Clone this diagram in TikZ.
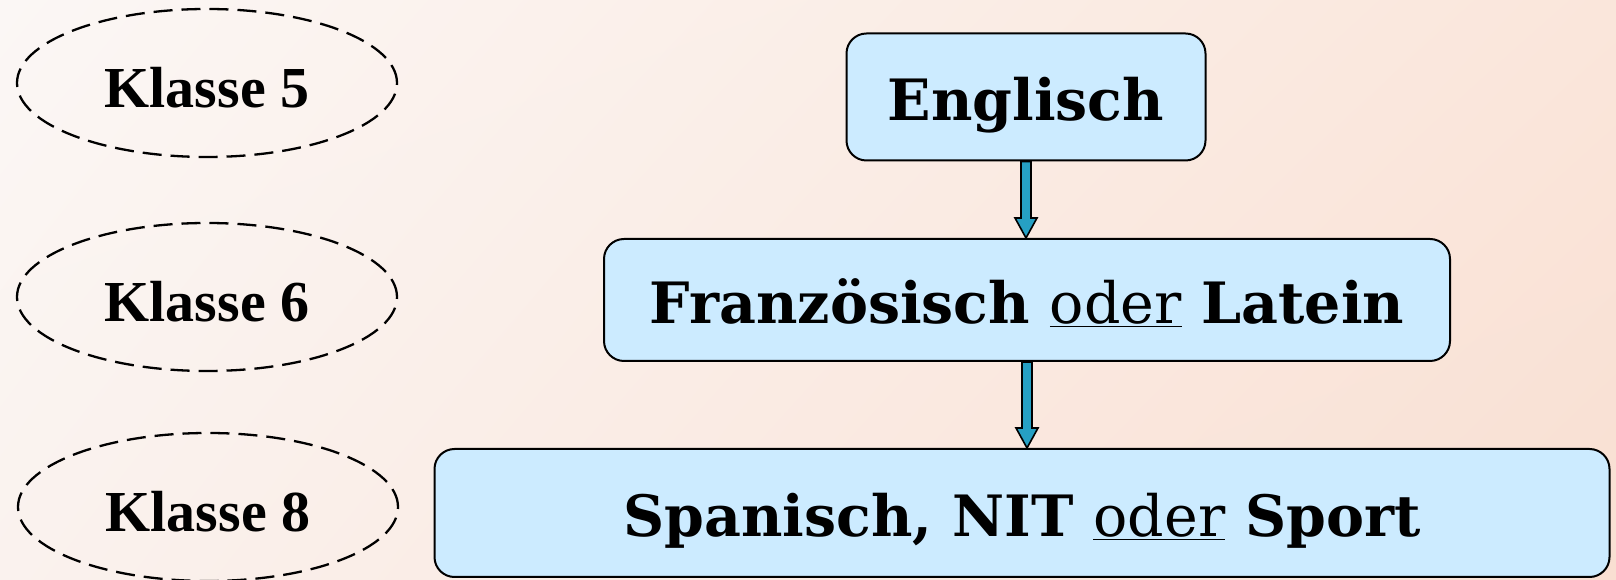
\documentclass[tikz,border=0pt]{standalone}
\usepackage{fontspec}
\usepackage{tikz}
\usepackage{xcolor}
\setmainfont{DejaVu Serif}
\newfontfamily\klassefont{Liberation Serif}
\usetikzlibrary{shapes.geometric,shadings}

\definecolor{bgTL}{RGB}{251,247,245}
\definecolor{bgTR}{RGB}{250,230,219}
\definecolor{bgBL}{RGB}{250,242,238}
\definecolor{bgBR}{RGB}{249,223,210}
\definecolor{boxblue}{RGB}{204,235,255}
\definecolor{arrowteal}{RGB}{38,160,196}

\tikzset{
  klasse/.style={ellipse, draw, dash pattern=on 19pt off 9pt, line width=2.3pt,
    minimum width=380pt, minimum height=148pt, inner sep=0pt,
    text height=50pt, text depth=0pt,
    font=\klassefont\bfseries\fontsize{58}{60}\selectfont},
  fach/.style={draw, rounded corners=20pt, line width=2pt, fill=boxblue, inner sep=0pt,
    text height=48pt, text depth=0pt,
    font=\bfseries\fontsize{57}{60}\selectfont},
  pfeil/.style={draw, line width=1.6pt, fill=arrowteal, line join=miter}
}

\begin{document}
\begin{tikzpicture}[x=1pt,y=1pt]
                \shade[upper left=bgTL, upper right=bgTR, lower left=bgBL, lower right=bgBR]
                  (0,0) rectangle (1616,580);
                \useasboundingbox (0,0) rectangle (1616,580);
                % Klassen
                \node[klasse] (k5) at (207,497) {Klasse 5};
                \node[klasse] (k6) at (207,283) {Klasse 6};
                \node[klasse] (k8) at (208,73) {Klasse 8};
                % Faecher
                \node[fach, minimum width=359pt, minimum height=127pt] (eng) at (1026,483) {Englisch};
                \node[fach, minimum width=846pt, minimum height=122pt] (fra) at (1027,280)
                  {Französisch \underline{\mdseries oder} Latein};
                \node[fach, minimum width=1175pt, minimum height=128pt] (spa) at (1022,67)
                  {Spanisch, NIT \underline{\mdseries oder} Sport};
                % Pfeile
                \draw[pfeil] ([xshift=-5pt]eng.south) -- ([xshift=-5pt,yshift=20pt]eng.south |- fra.north)
                  -- ([xshift=-11pt,yshift=20pt]eng.south |- fra.north) -- (eng.south |- fra.north)
                  -- ([xshift=11pt,yshift=20pt]eng.south |- fra.north) -- ([xshift=5pt,yshift=20pt]eng.south |- fra.north)
                  -- ([xshift=5pt]eng.south) -- cycle;
                \draw[pfeil] ([xshift=-5pt]fra.south) -- ([xshift=-5pt,yshift=20pt]fra.south |- spa.north)
                  -- ([xshift=-11pt,yshift=20pt]fra.south |- spa.north) -- (fra.south |- spa.north)
                  -- ([xshift=11pt,yshift=20pt]fra.south |- spa.north) -- ([xshift=5pt,yshift=20pt]fra.south |- spa.north)
                  -- ([xshift=5pt]fra.south) -- cycle;
\end{tikzpicture}
\end{document}
